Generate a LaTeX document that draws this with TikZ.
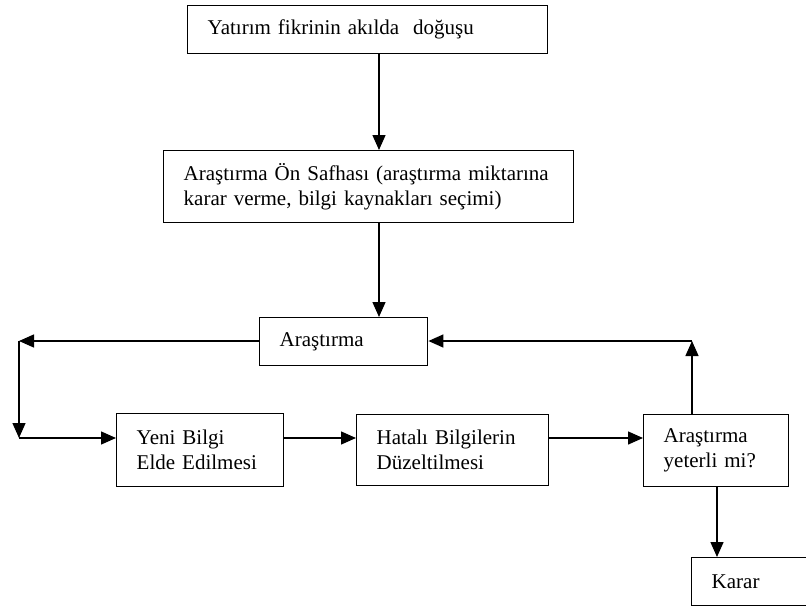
\documentclass[tikz,border=0pt]{standalone}
\usepackage{fontspec}
\setmainfont{Liberation Serif}
\usetikzlibrary{arrows.meta,positioning}

\tikzset{
  box/.style={draw, line width=1.4pt, anchor=north west, inner xsep=20pt,
    inner ysep=0pt, align=left, font=\fontsize{21}{25}\selectfont},
  arr/.style={-{Triangle[length=15pt,width=13pt]}, line width=1.4pt}
}

\begin{document}
\begin{tikzpicture}[x=1pt,y=-1pt]
\useasboundingbox (0,0) rectangle (806,608);
\clip (0,0) rectangle (806,608);
% boxes
\node[box, minimum width=360pt, text width=320pt, minimum height=48pt] (idea) at (187,5) {Yat\i r\i m fikrinin ak\i lda~ do\u{g}u\c{s}u};
\node[box, minimum width=404pt, text width=370pt, minimum height=72pt] (pre) at (163,150) {Ara\c{s}t\i rma \"On Safhas\i{} (ara\c{s}t\i rma miktar\i na\\karar verme, bilgi kaynaklar\i{} se\c{c}imi)};
\node[box, minimum width=168pt, text width=128pt, minimum height=48pt] (research) at (259,317) {Ara\c{s}t\i rma};
\node[box, minimum width=167pt, text width=127pt, minimum height=73pt] (newinfo) at (116,413) {Yeni Bilgi\\Elde Edilmesi};
\node[box, minimum width=192pt, text width=152pt, minimum height=71pt] (fix) at (356,414) {Hatal\i{} Bilgilerin\\D\"uzeltilmesi};
\node[box, minimum width=145pt, text width=105pt, minimum height=72pt] (enough) at (643,414) {Ara\c{s}t\i rma\\yeterli mi?};
\node[box, minimum width=130pt, text width=90pt, minimum height=48pt] (decision) at (691,557) {Karar};
% corners of the loop
\coordinate (tl) at (19,341);
\coordinate (bl) at (19,438);
\coordinate (tr) at (692,341);
\coordinate (c1) at (379,0);
\coordinate (c2) at (717,0);
% arrows
\draw[arr] (idea.south -| c1) -- (pre.north -| c1);
\draw[arr] (pre.south -| c1) -- (research.north -| c1);
\draw[arr] (research.west |- tl) -- (tl);
\draw[arr] (tl) -- (bl);
\draw[arr] (bl) -- (newinfo.west |- bl);
\draw[arr] (newinfo.east |- bl) -- (fix.west |- bl);
\draw[arr] (fix.east |- bl) -- (enough.west |- bl);
\draw[arr] (enough.north -| tr) -- (tr);
\draw[arr] (tr) -- (research.east |- tr);
\draw[arr] (enough.south -| c2) -- (decision.north -| c2);
\end{tikzpicture}
\end{document}
